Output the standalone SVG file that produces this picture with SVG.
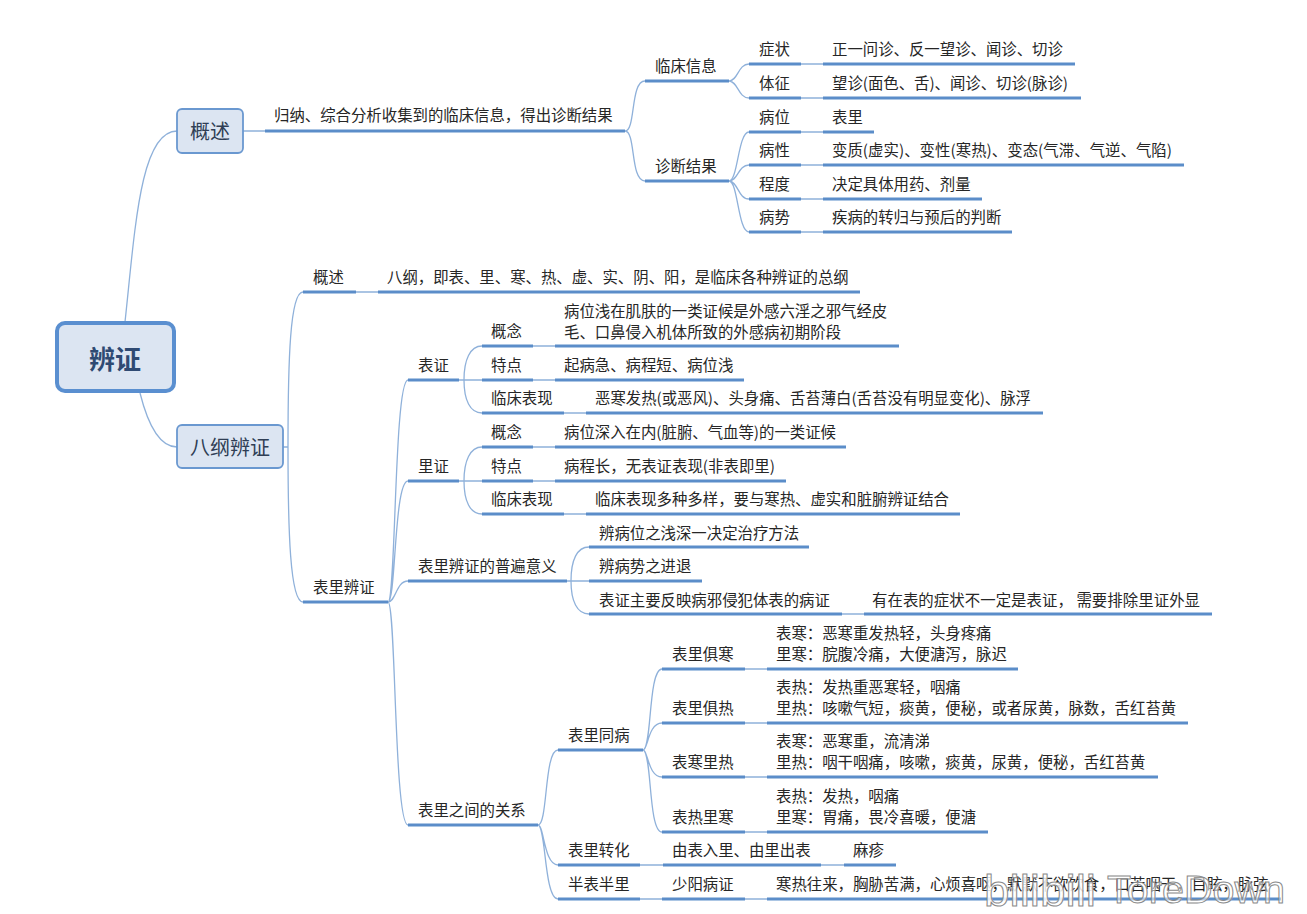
<svg xmlns="http://www.w3.org/2000/svg" width="1307" height="914" viewBox="0 0 1307 914">
<style>
text{font-family:"Noto Sans CJK SC","Noto Sans",sans-serif;font-size:15.4px;fill:#262626;font-weight:400;dominant-baseline:central}
.l{fill:none;stroke:#5b8dc9;stroke-width:3}
.c{fill:none;stroke:#8fb1da;stroke-width:1.3}
.b{fill:#dce5f2;stroke:#6a98d0;stroke-width:1.8}
.t{font-size:20px;fill:#2f3e55;text-anchor:middle;font-weight:400}
.wm{fill:#fff;fill-opacity:.55;stroke:#8a8a8a;stroke-width:1;font-family:"Liberation Sans",sans-serif;font-size:39px;font-weight:400;dominant-baseline:auto}
</style>
<rect width="1307" height="914" fill="#fff"/>
<g id="connectors">
<path class="c" d="M125 322C135 230 140 131 177 131M140 393C148 425 160 447 177 447"/>
<path class="c" d="M243 131H265M625 131C636 131 630 81 645 81M625 131C636 131 630 181 645 181M729 81C738 81 738 64 749 64M729 81C738 81 738 98 749 98M729 181C738 181 738 132 749 132M729 181C738 181 738 165 749 165M729 181C738 181 738 199 749 199M729 181C738 181 738 232 749 232"/>
<path class="c" d="M801 64H823M801 98H823M801 132H823M801 165H823M801 199H823M801 232H823"/>
<path class="c" d="M283 447H288M288 447C288 360 290 292 303 292M288 447C288 530 290 602 303 602M356 292H378"/>
<path class="c" d="M388 602C396 602 394 380 408 380M388 602C396 602 394 481 408 481M388 602C396 602 396 581 408 581M388 602C396 602 394 825 408 825"/>
<path class="c" d="M459 380H464M464 380C464 360 470 346 482 346M464 380H482M464 380C464 400 470 413 482 413M459 481H464M464 481C464 461 470 447 482 447M464 481H482M464 481C464 501 470 514 482 514"/>
<path class="c" d="M533 346H555M533 380H555M564 413H586M533 447H555M533 481H555M564 514H586"/>
<path class="c" d="M567 581H571M571 581C571 560 577 547 589 547M571 581H589M571 581C571 601 577 614 589 614M842 614H864"/>
<path class="c" d="M538 825C548 825 544 750 558 750M538 825C544 825 544 865 558 865M538 825C546 825 544 899 558 899"/>
<path class="c" d="M643 750C652 750 648 669 662 669M643 750C648 750 648 723 662 723M643 750C648 750 648 777 662 777M643 750C652 750 648 832 662 832"/>
<path class="c" d="M745 669H767M745 723H767M745 777H767M745 832H767M640 865H663M821 865H844M640 899H662M745 899H767"/>
</g>
<g id="underlines">
<path class="l" d="M265 131H625M645 81H729M645 181H729"/>
<path class="l" d="M749 64H801M823 64H1075M749 98H801M823 98H1081M749 132H801M823 132H874M749 165H801M823 165H1184M749 199H801M823 199H982M749 232H801M823 232H1012"/>
<path class="l" d="M303 292H356M378 292H860M303 602H388"/>
<path class="l" d="M408 380H459M482 346H533M555 346H899M482 380H533M555 380H744M482 413H564M586 413H1043"/>
<path class="l" d="M408 481H459M482 447H533M555 447H846M482 481H533M555 481H786M482 514H564M586 514H960"/>
<path class="l" d="M408 581H567M589 547H809M589 581H702M589 614H842M864 614H1212"/>
<path class="l" d="M408 825H538M558 750H643M662 669H745M767 669H1018M662 723H745M767 723H1188M662 777H745M767 777H1158M662 832H745M767 832H988"/>
<path class="l" d="M558 865H640M663 865H821M844 865H896M558 899H640M662 899H745M767 899H1281"/>
</g>
<g id="root"><rect x="57" y="323" width="117" height="68" rx="8" fill="#dce5f2" stroke="#5a8fd0" stroke-width="4"/><text x="115" y="357" style="font-size:26px;font-weight:700;text-anchor:middle;fill:#2f4a73">辨证</text></g>
<g id="n-gaishu"><rect class="b" x="177" y="109" width="66" height="44" rx="5"/><text class="t" x="210" y="130">概述</text></g>
<g id="n-bagang"><rect class="b" x="177" y="425" width="106" height="43" rx="5"/><text class="t" x="230" y="446">八纲辨证</text></g>
<g id="labels" transform="translate(0 -1)">
<text x="274" y="115">归纳、综合分析收集到的临床信息，得出诊断结果</text>
<text x="655" y="66">临床信息</text><text x="655" y="166">诊断结果</text>
<text x="759" y="49">症状</text><text x="832" y="49">正一问诊、反一望诊、闻诊、切诊</text>
<text x="759" y="83">体征</text><text x="832" y="83" textLength="236">望诊(面色、舌)、闻诊、切诊(脉诊)</text>
<text x="759" y="117">病位</text><text x="832" y="117">表里</text>
<text x="759" y="150">病性</text><text x="832" y="150" textLength="340">变质(虚实)、变性(寒热)、变态(气滞、气逆、气陷)</text>
<text x="759" y="184">程度</text><text x="832" y="184">决定具体用药、剂量</text>
<text x="759" y="217">病势</text><text x="832" y="217">疾病的转归与预后的判断</text>
<text x="313" y="277">概述</text><text x="387" y="277">八纲，即表、里、寒、热、虚、实、阴、阳，是临床各种辨证的总纲</text>
<text x="313" y="587">表里辨证</text>
<text x="418" y="365">表证</text>
<text x="491" y="331">概念</text><text x="564" y="311">病位浅在肌肤的一类证候是外感六淫之邪气经皮</text><text x="564" y="332">毛、口鼻侵入机体所致的外感病初期阶段</text>
<text x="491" y="365">特点</text><text x="564" y="365">起病急、病程短、病位浅</text>
<text x="491" y="398">临床表现</text><text x="595" y="398" textLength="436">恶寒发热(或恶风)、头身痛、舌苔薄白(舌苔没有明显变化)、脉浮</text>
<text x="418" y="466">里证</text>
<text x="491" y="432">概念</text><text x="564" y="432" textLength="272">病位深入在内(脏腑、气血等)的一类证候</text>
<text x="491" y="466">特点</text><text x="564" y="466" textLength="211">病程长，无表证表现(非表即里)</text>
<text x="491" y="499">临床表现</text><text x="595" y="499">临床表现多种多样，要与寒热、虚实和脏腑辨证结合</text>
<text x="418" y="566">表里辨证的普遍意义</text>
<text x="599" y="533">辨病位之浅深一决定治疗方法</text><text x="599" y="566">辨病势之进退</text><text x="599" y="600">表证主要反映病邪侵犯体表的病证</text><text x="872" y="600" textLength="328">有在表的症状不一定是表证， 需要排除里证外显</text>
<text x="418" y="810">表里之间的关系</text>
<text x="568" y="735">表里同病</text>
<text x="672" y="654">表里俱寒</text><text x="776" y="633">表寒：恶寒重发热轻，头身疼痛</text><text x="776" y="654">里寒：脘腹冷痛，大便溏泻，脉迟</text>
<text x="672" y="708">表里俱热</text><text x="776" y="687">表热：发热重恶寒轻，咽痛</text><text x="776" y="708">里热：咳嗽气短，痰黄，便秘，或者尿黄，脉数，舌红苔黄</text>
<text x="672" y="762">表寒里热</text><text x="776" y="741">表寒：恶寒重，流清涕</text><text x="776" y="762">里热：咽干咽痛，咳嗽，痰黄，尿黄，便秘，舌红苔黄</text>
<text x="672" y="817">表热里寒</text><text x="776" y="796">表热：发热，咽痛</text><text x="776" y="817">里寒：胃痛，畏冷喜暖，便溏</text>
<text x="568" y="850">表里转化</text><text x="672" y="850">由表入里、由里出表</text><text x="853" y="850">麻疹</text>
<text x="568" y="884">半表半里</text><text x="672" y="884">少阳病证</text><text x="776" y="884">寒热往来，胸胁苦满，心烦喜呕，默默不欲饮食，口苦咽干，目眩，脉弦</text>
</g>
<g id="watermark"><text class="wm" x="984" y="906" style="font-size:44px;fill-opacity:.85" textLength="112" lengthAdjust="spacingAndGlyphs">bilibili</text><text class="wm" x="1107" y="903" textLength="178" lengthAdjust="spacingAndGlyphs">ToreDown</text></g>
</svg>
